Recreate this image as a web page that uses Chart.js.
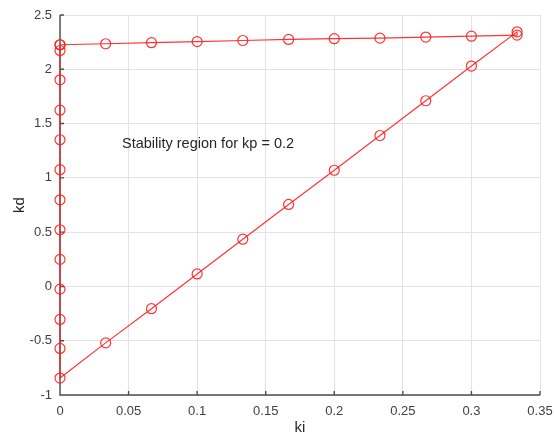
<!DOCTYPE html>
<html>
<head>
<meta charset="utf-8">
<script src="https://cdn.jsdelivr.net/npm/chart.js@4/dist/chart.umd.min.js"></script>
<style>
  html, body { margin: 0; padding: 0; background: #fff; }
  #wrap { width: 554px; height: 444px; }
</style>
</head>
<body>
<div id="wrap"><canvas id="chart" width="554" height="444"></canvas></div>
<script>
// top edge of the region
const topKi = [0, 0.0333, 0.0667, 0.1, 0.1333, 0.1667, 0.2, 0.2333, 0.2667, 0.3, 0.3333]
const topKd = [2.226, 2.235, 2.245, 2.255, 2.265, 2.275, 2.282, 2.287, 2.297, 2.305, 2.315]
// diagonal edge, going back down
const diagKi = [0.3333, 0.3, 0.2667, 0.2333, 0.2, 0.1667, 0.1333, 0.1, 0.0667, 0.0333, 0]
const diagKd = [2.345, 2.03, 1.71, 1.39, 1.07, 0.755, 0.435, 0.115, -0.205, -0.52, -0.844]
// ki = 0 edge, going up
const leftKi = [0, 0, 0, 0, 0, 0, 0, 0, 0, 0, 0, 0]
const leftKd = [-0.571, -0.304, -0.025, 0.249, 0.522, 0.798, 1.075, 1.351, 1.623, 1.903, 2.173, 2.226]

const xTicks = [0, 0.05, 0.1, 0.15, 0.2, 0.25, 0.3, 0.35]
const yTicks = [-1, -0.5, 0, 0.5, 1, 1.5, 2, 2.5]

const label = "Stability region for kp = 0.2"
const labelPos = { x: 0.0452, y: 1.308 }

const pts = []
for (let i = 0; i < topKi.length; i++) pts.push({ x: topKi[i], y: topKd[i] })
for (let i = 0; i < diagKi.length; i++) pts.push({ x: diagKi[i], y: diagKd[i] })
for (let i = 0; i < leftKi.length; i++) pts.push({ x: leftKi[i], y: leftKd[i] })

const FONT = "'Liberation Sans', Arial, Helvetica, sans-serif"
const RED = "rgba(255,30,30,0.9)"

const fmt = v => String(Math.round(v * 100) / 100)

// matlab-like axis lines with inward ticks, drawn under the data
const matlabAxes = {
    id: "matlabAxes",
    beforeDatasetsDraw(chart){
        const ctx = chart.ctx
        const xs = chart.scales.x
        const ys = chart.scales.y
        const a = chart.chartArea
        ctx.save()
        ctx.strokeStyle = "#4d4d4d"
        ctx.lineWidth = 1.4
        ctx.beginPath()
        ctx.moveTo(a.left, a.top)
        ctx.lineTo(a.left, a.bottom)
        ctx.lineTo(a.right, a.bottom)
        for (const t of xTicks) {
            const px = xs.getPixelForValue(t)
            ctx.moveTo(px, a.bottom)
            ctx.lineTo(px, a.bottom - 4)
        }
        for (const t of yTicks) {
            const py = ys.getPixelForValue(t)
            ctx.moveTo(a.left, py)
            ctx.lineTo(a.left + 4, py)
        }
        ctx.stroke()
        ctx.restore()
    },
    afterDraw(chart){
        const ctx = chart.ctx
        ctx.save()
        ctx.fillStyle = "#262626"
        ctx.font = "14.5px " + FONT
        ctx.textBaseline = "middle"
        ctx.textAlign = "left"
        ctx.fillText(label, chart.scales.x.getPixelForValue(labelPos.x), chart.scales.y.getPixelForValue(labelPos.y))
        ctx.restore()
    }
}

new Chart(document.getElementById("chart"), {
    type: "scatter",
    data: {
        datasets: [{
            data: pts,
            showLine: true,
            clip: false,
            borderColor: RED,
            borderWidth: 1.2,
            pointStyle: "circle",
            pointRadius: 5,
            pointBorderWidth: 1.2,
            pointBorderColor: RED,
            pointBackgroundColor: "rgba(0,0,0,0)",
            tension: 0
        }]
    },
    options: {
        responsive: false,
        animation: false,
        devicePixelRatio: 1,
        layout: { padding: { left: 0, right: 14, top: 15, bottom: 0 } },
        plugins: {
            legend: { display: false },
            tooltip: { enabled: false }
        },
        scales: {
            x: {
                type: "linear",
                min: 0, max: 0.35,
                afterBuildTicks: s => { s.ticks = xTicks.map(v => ({ value: v })) },
                afterFit: s => { s.height = 49; s.paddingLeft = 0; s.paddingRight = 0 },
                grid: { color: "#e3e3e3", drawTicks: false, lineWidth: 1 },
                border: { display: false },
                ticks: {
                    padding: 9,
                    color: "#404040",
                    font: { family: FONT, size: 13 },
                    maxRotation: 0,
                    callback: v => fmt(v)
                },
                title: {
                    display: true, text: "ki", color: "#262626",
                    font: { family: FONT, size: 15 }, padding: { top: 4, bottom: 7 }
                }
            },
            y: {
                type: "linear",
                min: -1, max: 2.5,
                afterBuildTicks: s => { s.ticks = yTicks.map(v => ({ value: v })) },
                afterFit: s => { s.width = 60; s.paddingTop = 0; s.paddingBottom = 0 },
                grid: { color: "#e3e3e3", drawTicks: false, lineWidth: 1 },
                border: { display: false },
                ticks: {
                    padding: 8,
                    color: "#404040",
                    font: { family: FONT, size: 13 },
                    callback: v => fmt(v)
                },
                title: {
                    display: true, text: "kd", color: "#262626",
                    font: { family: FONT, size: 15 }, padding: { top: 11, bottom: 4 }
                }
            }
        }
    },
    plugins: [matlabAxes]
})
</script>
</body>
</html>
